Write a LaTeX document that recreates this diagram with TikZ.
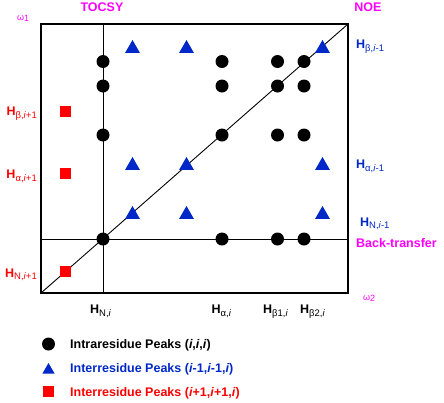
\documentclass[tikz,border=0pt]{standalone}
\usepackage{fontspec}
\setmainfont{Liberation Sans}
\usetikzlibrary{shapes.geometric}
\definecolor{peakblue}{RGB}{0,40,200}
\definecolor{peakred}{RGB}{255,0,0}
\definecolor{specmag}{RGB}{255,0,255}
\newcommand{\labfont}{\fontsize{12.5}{14}\selectfont}
\newcommand{\hlab}[1]{\textbf{H}\raisebox{-0.45ex}{\fontsize{9.5}{10}\selectfont #1}}

\begin{document}
\begin{tikzpicture}[x=1pt,y=-1pt,
  intra/.style={circle, fill=black, inner sep=0pt, outer sep=0pt, minimum size=13},
  inter/.style={regular polygon, regular polygon sides=3, fill=peakblue, inner sep=0pt, outer sep=0pt, minimum size=17},
  back/.style={rectangle, fill=peakred, inner sep=0pt, outer sep=0pt, minimum size=11},
  lab/.style={font=\labfont, inner sep=0pt},
  axlab/.style={font=\fontsize{9}{10}\selectfont, text=specmag, inner sep=0pt}]
\useasboundingbox (0,0) rectangle (444,402);
\coordinate (ll) at (41,293);
\coordinate (ur) at (348,24);
\coordinate (vtop) at (103,24);
\coordinate (vbot) at (103,293);
\coordinate (hleft) at (41,239);
\coordinate (hright) at (348,239);
\draw[line width=0.9pt] (vtop) -- (vbot);
\draw[line width=0.9pt] (hleft) -- (hright);
\draw[line width=0.9pt] (ll) -- (ur);
\draw[line width=1.4pt] (ll) rectangle (ur);
\node[intra] (pNb) at (103,61.5) {};
\node[intra] (pNb2) at (103,86) {};
\node[intra] (pNa) at (103,135) {};
\node[intra] (pNN) at (103,239) {};
\node[intra] (pab) at (222,61.5) {};
\node[intra] (pab2) at (222,86) {};
\node[intra] (paa) at (222,135) {};
\node[intra] (paN) at (222,239) {};
\node[intra] (pbb) at (277.5,61.5) {};
\node[intra] (pbb2) at (277.5,86) {};
\node[intra] (pba) at (277.5,135) {};
\node[intra] (pbN) at (277.5,239) {};
\node[intra] (pcb) at (304,61.5) {};
\node[intra] (pcb2) at (304,86) {};
\node[intra] (pca) at (304,135) {};
\node[intra] (pcN) at (304,239) {};
\node[inter] (tNb) at (132.5,48.5) {};
\node[inter] (tab) at (186.5,48.5) {};
\node[inter] (tcb) at (322.5,48.5) {};
\node[inter] (tNa) at (132.5,165.5) {};
\node[inter] (taa) at (186.5,165.5) {};
\node[inter] (tca) at (322.5,165.5) {};
\node[inter] (tNN) at (132.5,214.5) {};
\node[inter] (taN) at (186.5,214.5) {};
\node[inter] (tcN) at (322.5,214.5) {};
\node[back] (sb) at (65.5,111.5) {};
\node[back] (sa) at (65.5,173) {};
\node[back] (sN) at (65.5,271) {};
\node[lab, text=peakred, anchor=base east] (lbp) at (37,115.5) {\hlab{β,\textit{i}+1}};
\node[lab, text=peakred, anchor=base east] (lap) at (37,178.5) {\hlab{α,\textit{i}+1}};
\node[lab, text=peakred, anchor=base east] (lNp) at (37,277) {\hlab{N,\textit{i}+1}};
\node[lab, text=peakblue, anchor=base west] (lbm) at (356,48.5) {\hlab{β,\textit{i}-1}};
\node[lab, text=peakblue, anchor=base west] (lam) at (356,168.5) {\hlab{α,\textit{i}-1}};
\node[lab, text=peakblue, anchor=base west] (lNm) at (360,226) {\hlab{N,\textit{i}-1}};
\node[lab, text=specmag, anchor=base west] (btr) at (356,247) {\textbf{Back-transfer}};
\node[lab, anchor=base west] (lNi) at (90,313.5) {\hlab{N,\textit{i}}};
\node[lab, anchor=base west] (lai) at (211.5,313.5) {\hlab{α,\textit{i}}};
\node[lab, anchor=base west] (lb1) at (263,313.5) {\hlab{β1,\textit{i}}};
\node[lab, anchor=base west] (lb2) at (300,313.5) {\hlab{β2,\textit{i}}};
\node[lab, text=specmag, anchor=base] (tocsy) at (102,11.5) {\textbf{TOCSY}};
\node[lab, text=specmag, anchor=base] (noe) at (368,11.5) {\textbf{NOE}};
\node[axlab, anchor=base west] (w1) at (17,20) {ω\raisebox{-0.3ex}{1}};
\node[axlab, anchor=base west] (w2) at (363,300) {ω\raisebox{-0.3ex}{2}};
\node[intra] (kintra) at (48.5,344) {};
\node[inter, minimum size=14] (kinter) at (48.5,370) {};
\node[back] (kback) at (48.5,391) {};
\node[lab, anchor=base west] (tintra) at (70,348) {\textbf{Intraresidue Peaks (\textit{i},\textit{i},\textit{i})}};
\node[lab, text=peakblue, anchor=base west] (tinter) at (70,372) {\textbf{Interresidue Peaks (\textit{i}-1,\textit{i}-1,\textit{i})}};
\node[lab, text=peakred, anchor=base west] (tback) at (70,396) {\textbf{Interresidue Peaks (\textit{i}+1,\textit{i}+1,\textit{i})}};
\end{tikzpicture}
\end{document}
